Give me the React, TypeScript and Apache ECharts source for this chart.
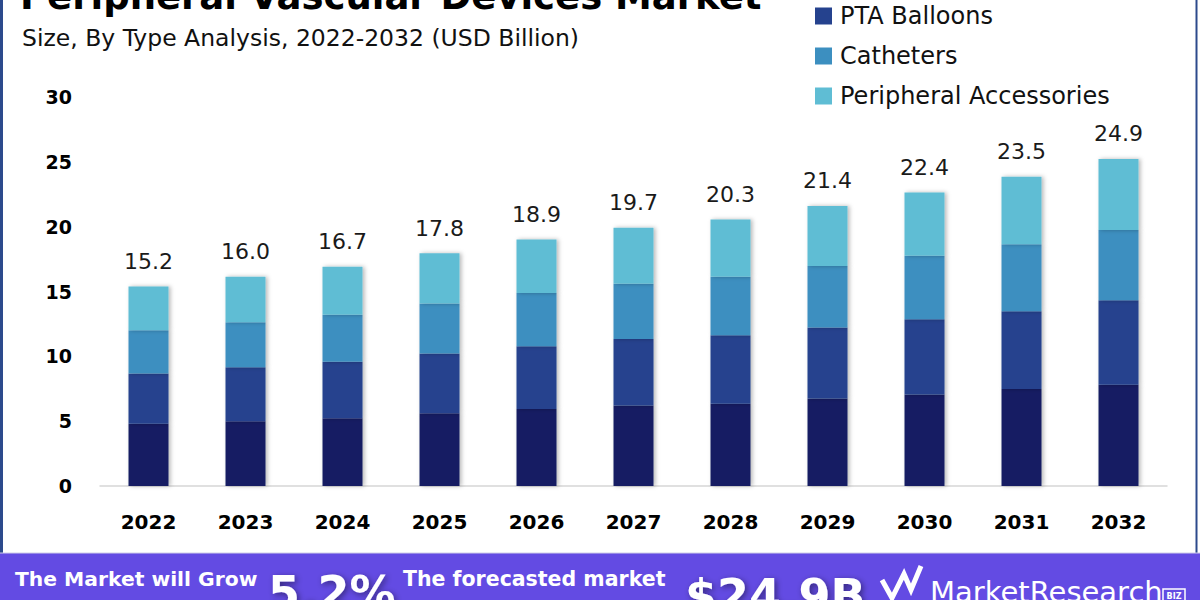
import React, { useEffect, useRef } from "react";
import * as echarts from "echarts";

const categories = ["2022", "2023", "2024", "2025", "2026", "2027", "2028", "2029", "2030", "2031", "2032"];
const stents = [4.8, 5.0, 5.23, 5.62, 5.93, 6.21, 6.34, 6.75, 7.06, 7.48, 7.81];
const ptaBalloons = [3.87, 4.15, 4.35, 4.59, 4.84, 5.13, 5.28, 5.47, 5.8, 6.0, 6.52];
const catheters = [3.35, 3.48, 3.63, 3.87, 4.12, 4.25, 4.51, 4.74, 4.9, 5.16, 5.41];
const accessories = [3.36, 3.51, 3.69, 3.87, 4.12, 4.33, 4.43, 4.64, 4.87, 5.2, 5.48];
const totals = [15.2, 16.0, 16.7, 17.8, 18.9, 19.7, 20.3, 21.4, 22.4, 23.5, 24.9];
const yTicks = { min: 0, max: 30, interval: 5 };

const FONT = "DejaVu Sans";
const colors = ["#181f63", "#25428e", "#3c8fc0", "#5fbdd4"];

export default function App() {
  const ref = useRef<HTMLDivElement>(null);
  useEffect(() => {
    if (!ref.current) return;
    const chart = echarts.init(ref.current, null, { renderer: "svg" });
    const barStyle = (c: string) => ({
      color: c,
      shadowColor: "rgba(0,0,0,0.28)",
      shadowBlur: 4,
      shadowOffsetX: 2,
      shadowOffsetY: 0,
    });
    const option: any = {
      animation: false,
      backgroundColor: "#ffffff",
      grid: { left: 100, right: 33, top: 97, bottom: 114, containLabel: false },
      legend: {
        data: ["PTA Balloons", "Catheters", "Peripheral Accessories"],
        orient: "vertical",
        left: 815,
        top: 4,
        padding: 0,
        itemWidth: 17,
        itemHeight: 17,
        itemGap: 16,
        icon: "rect",
        textStyle: { fontFamily: FONT, fontSize: 24, color: "#111", padding: [0, 0, 0, 3] },
      },
      xAxis: {
        type: "category",
        data: categories,
        axisLine: { lineStyle: { color: "#d6d6d6", width: 1.5 } },
        axisTick: { show: false },
        axisLabel: { fontFamily: FONT, fontWeight: "bold", fontSize: 20, color: "#000", margin: 26 },
      },
      yAxis: {
        type: "value",
        min: yTicks.min,
        max: yTicks.max,
        interval: yTicks.interval,
        axisLine: { show: false },
        axisTick: { show: false },
        splitLine: { show: false },
        axisLabel: { fontFamily: FONT, fontWeight: "bold", fontSize: 19, color: "#000", margin: 28 },
      },
      series: [
        { name: "Stents", type: "bar", stack: "total", barWidth: 40, data: stents, itemStyle: barStyle(colors[0]) },
        { name: "PTA Balloons", type: "bar", stack: "total", barWidth: 40, data: ptaBalloons, itemStyle: barStyle(colors[1]) },
        { name: "Catheters", type: "bar", stack: "total", barWidth: 40, data: catheters, itemStyle: barStyle(colors[2]) },
        {
          name: "Peripheral Accessories",
          type: "bar",
          stack: "total",
          barWidth: 40,
          data: accessories,
          itemStyle: barStyle(colors[3]),
          label: {
            show: true,
            position: "top",
            distance: 14,
            fontFamily: FONT,
            fontSize: 22,
            color: "#1a1a1a",
            formatter: (p: any) => totals[p.dataIndex].toFixed(1),
          },
        },
      ],
      graphic: [
        {
          type: "text",
          left: 20,
          top: -22,
          style: { text: "Peripheral Vascular Devices Market", fontFamily: FONT, fontWeight: "bold", fontSize: 37, fill: "#000" },
        },
        {
          type: "text",
          x: 22,
          y: 38,
          style: { text: "Size, By Type Analysis, 2022-2032 (USD Billion)", fontFamily: FONT, fontSize: 23.5, fill: "#111", verticalAlign: "middle" },
        },
        { type: "line", shape: { x1: 1.5, y1: 0, x2: 1.5, y2: 553 }, style: { stroke: "#2c4a8c", lineWidth: 3 } },
        { type: "line", shape: { x1: 1196.5, y1: 0, x2: 1196.5, y2: 553 }, style: { stroke: "#2c4a8c", lineWidth: 2 } },
        { type: "rect", shape: { x: 0, y: 553, width: 1200, height: 47 }, style: { fill: "#634be3" } },
        { type: "line", shape: { x1: 0, y1: 553, x2: 1200, y2: 553 }, style: { stroke: "#cfcde8", lineWidth: 1 } },
        {
          type: "text",
          x: 15,
          y: 579,
          style: { text: "The Market will Grow", fontFamily: FONT, fontWeight: "bold", fontSize: 20.3, fill: "#fff", verticalAlign: "middle" },
        },
        {
          type: "text",
          x: 268,
          y: 593,
          style: {
            text: "5.2%",
            fontFamily: FONT,
            fontWeight: "bold",
            fontSize: 46,
            fill: "#fff",
            verticalAlign: "middle",
            textShadowColor: "rgba(0,0,0,0.45)",
            textShadowBlur: 6,
            textShadowOffsetX: 2,
            textShadowOffsetY: 2,
          },
        },
        {
          type: "text",
          x: 403,
          y: 579,
          style: { text: "The forecasted market", fontFamily: FONT, fontWeight: "bold", fontSize: 20.5, fill: "#fff", verticalAlign: "middle" },
        },
        {
          type: "text",
          x: 685,
          y: 596,
          style: {
            text: "$24.9B",
            fontFamily: FONT,
            fontWeight: "bold",
            fontSize: 46,
            fill: "#fff",
            verticalAlign: "middle",
            textShadowColor: "rgba(0,0,0,0.45)",
            textShadowBlur: 6,
            textShadowOffsetX: 2,
            textShadowOffsetY: 2,
          },
        },
        {
          type: "polyline",
          shape: { points: [[882, 580], [892, 598], [904, 574], [911, 590], [921, 566]] },
          style: { stroke: "#fff", lineWidth: 5, fill: "none", lineJoin: "miter" },
        },
        {
          type: "text",
          x: 930,
          y: 592,
          style: { text: "MarketResearch", fontFamily: FONT, fontSize: 29, fill: "#fff", verticalAlign: "middle" },
        },
        { type: "rect", shape: { x: 1163, y: 589, width: 22, height: 13 }, style: { fill: "none", stroke: "#fff", lineWidth: 1.5 } },
        {
          type: "text",
          x: 1174,
          y: 596,
          style: { text: "BIZ", fontFamily: FONT, fontWeight: "bold", fontSize: 8, fill: "#fff", align: "center", verticalAlign: "middle" },
        },
      ],
    };
    chart.setOption(option);
    return () => chart.dispose();
  }, []);
  return <div ref={ref} style={{ position: "absolute", left: 0, top: 0, width: 1200, height: 600 }} />;
}
